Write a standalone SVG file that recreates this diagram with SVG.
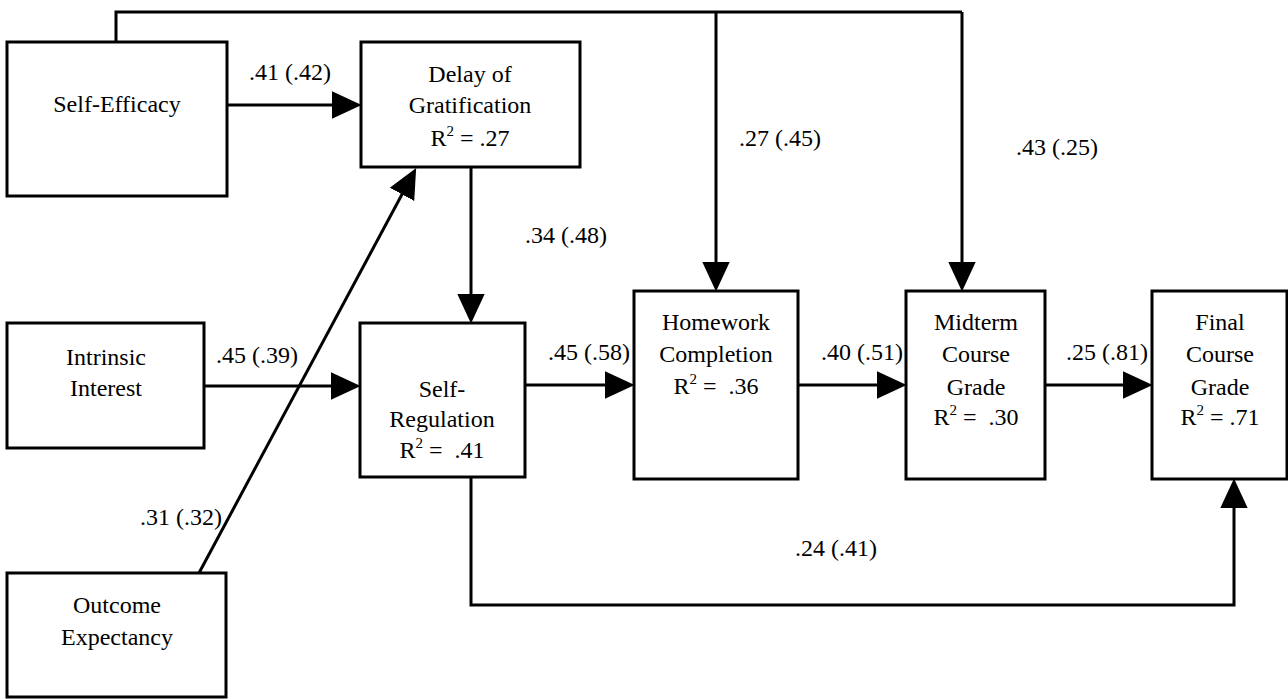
<svg xmlns="http://www.w3.org/2000/svg" width="1288" height="699" viewBox="0 0 1288 699">
<defs>
<style>
.box{fill:#fff;stroke:#000;stroke-width:3}
.t{font-family:"Liberation Serif","Times New Roman",serif;font-size:24px;fill:#000;text-anchor:middle}
.lbl{font-family:"Liberation Serif","Times New Roman",serif;font-size:24px;fill:#000;text-anchor:middle}
.sup{font-size:15px}
.c{fill:none;stroke:#000;stroke-width:3}
.a{marker-end:url(#ah)}
</style>
<marker id="ah" markerUnits="userSpaceOnUse" markerWidth="30" markerHeight="30" viewBox="0 0 26 24" refX="22" refY="12" orient="auto">
<path d="M0,0 L26,12 L0,24 z" fill="#000"/>
</marker>
</defs>
<rect width="1288" height="699" fill="#fff"/>
<g id="connectors">
<path class="c" d="M116,42 V12 H962"/>
<path class="c a" d="M716,12 V287"/>
<path class="c a" d="M962,12 V287"/>
<path class="c a" d="M227,105 H357"/>
<path class="c a" d="M471,167 V319"/>
<path class="c a" d="M204,386 H356"/>
<path class="c a" d="M199,573 L414,172"/>
<path class="c a" d="M525,385 H630"/>
<path class="c a" d="M798,385 H902"/>
<path class="c a" d="M1045,385 H1148"/>
<path class="c a" d="M471,477 V605 H1234 V483"/>
</g>
<g id="labels">
<text class="lbl" x="290" y="80">.41 (.42)</text>
<text class="lbl" x="780" y="146">.27 (.45)</text>
<text class="lbl" x="1057" y="155">.43 (.25)</text>
<text class="lbl" x="566" y="243">.34 (.48)</text>
<text class="lbl" x="257" y="363">.45 (.39)</text>
<text class="lbl" x="589" y="360">.45 (.58)</text>
<text class="lbl" x="862" y="360">.40 (.51)</text>
<text class="lbl" x="1107" y="360">.25 (.81)</text>
<text class="lbl" x="836" y="556">.24 (.41)</text>
<text class="lbl" x="181" y="525">.31 (.32)</text>
</g>
<g id="self-efficacy">
<rect class="box" x="7" y="42" width="220" height="154"/>
<text class="t" x="117" y="112">Self-Efficacy</text>
</g>
<g id="delay-of-gratification">
<rect class="box" x="361" y="42" width="219" height="125"/>
<text class="t" x="470" y="82">Delay of</text>
<text class="t" x="470" y="113">Gratification</text>
<text class="t" x="470" y="146">R<tspan class="sup" dy="-10">2</tspan><tspan dy="10"> = .27</tspan></text>
</g>
<g id="intrinsic-interest">
<rect class="box" x="7" y="323" width="197" height="125"/>
<text class="t" x="106" y="365">Intrinsic</text>
<text class="t" x="106" y="396">Interest</text>
</g>
<g id="self-regulation">
<rect class="box" x="360" y="323" width="165" height="154"/>
<text class="t" x="442" y="397">Self-</text>
<text class="t" x="442" y="427">Regulation</text>
<text class="t" x="442" y="458" xml:space="preserve">R<tspan class="sup" dy="-10">2</tspan><tspan dy="10"> =  .41</tspan></text>
</g>
<g id="outcome-expectancy">
<rect class="box" x="7" y="573" width="219" height="124"/>
<text class="t" x="117" y="613">Outcome</text>
<text class="t" x="117" y="645">Expectancy</text>
</g>
<g id="homework-completion">
<rect class="box" x="634" y="291" width="164" height="188"/>
<text class="t" x="716" y="330">Homework</text>
<text class="t" x="716" y="362">Completion</text>
<text class="t" x="716" y="394" xml:space="preserve">R<tspan class="sup" dy="-10">2</tspan><tspan dy="10"> =  .36</tspan></text>
</g>
<g id="midterm-course-grade">
<rect class="box" x="906" y="291" width="139" height="188"/>
<text class="t" x="976" y="330">Midterm</text>
<text class="t" x="976" y="362">Course</text>
<text class="t" x="976" y="395">Grade</text>
<text class="t" x="976" y="425" xml:space="preserve">R<tspan class="sup" dy="-10">2</tspan><tspan dy="10"> =  .30</tspan></text>
</g>
<g id="final-course-grade">
<rect class="box" x="1152" y="291" width="135" height="188"/>
<text class="t" x="1220" y="330">Final</text>
<text class="t" x="1220" y="362">Course</text>
<text class="t" x="1220" y="395">Grade</text>
<text class="t" x="1220" y="425">R<tspan class="sup" dy="-10">2</tspan><tspan dy="10"> = .71</tspan></text>
</g>
</svg>
